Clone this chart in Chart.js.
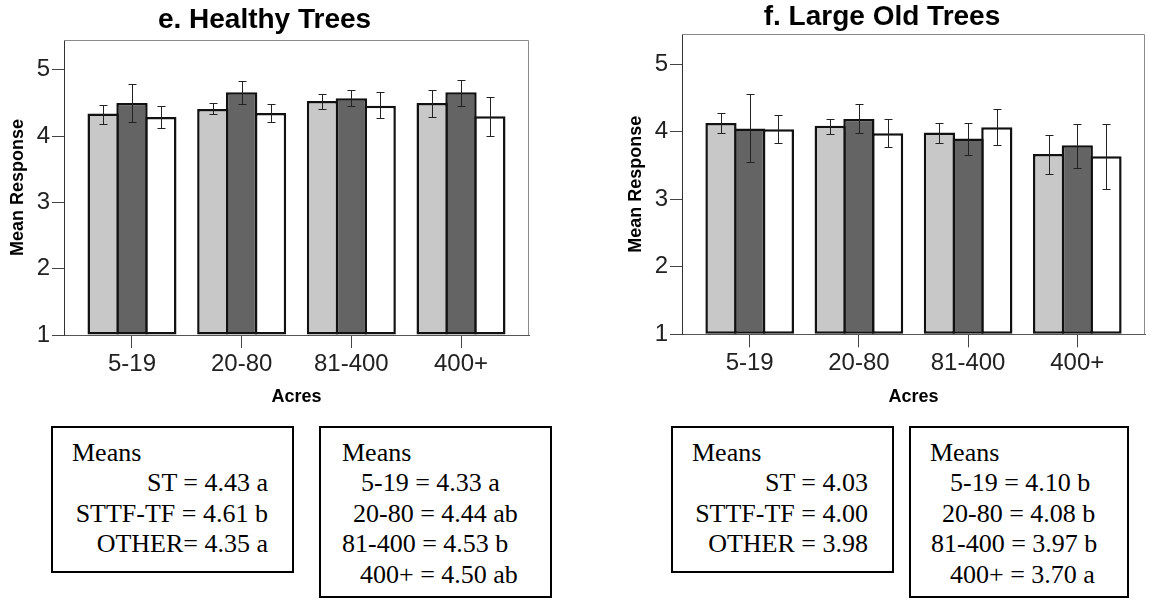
<!DOCTYPE html>
<html>
  <head>
    <style>
      body {
        margin: 0;
        background: #fff;
        width: 1149px;
        height: 600px;
        position: relative;
        overflow: hidden;
      }
      canvas {
        position: absolute;
        top: 0;
      }
      #healthy { left: 0; }
      #oldTrees { left: 619px; }
      .box {
        position: absolute;
        top: 426px;
        box-sizing: border-box;
        border: 2px solid #000;
        font-family: "Liberation Serif", "Times New Roman", serif;
        font-size: 26px;
        line-height: 30px;
        color: #000;
      }
      .box div {
        position: absolute;
        white-space: nowrap;
      }
      .box .r { text-align: right; }
    </style>
    <script src="https://cdn.jsdelivr.net/npm/chart.js"></script>
  </head>
  <body>
    <canvas id="healthy" width="540" height="415"></canvas>
    <canvas id="oldTrees" width="530" height="415"></canvas>

    <!-- means tables under the charts -->
    <div class="box" style="left:51px; width:243px; height:147px;">
      <div style="left:19px; top:10px;">Means</div>
      <div class="r" style="right:24px; top:40px;">ST = 4.43 a</div>
      <div class="r" style="right:24px; top:71px;">STTF-TF = 4.61 b</div>
      <div class="r" style="right:24px; top:101px;">OTHER= 4.35 a</div>
    </div>
    <div class="box" style="left:319px; width:233px; height:172px;">
      <div style="left:21px; top:10px;">Means</div>
      <div style="left:40px; top:40px;">5-19 = 4.33 a</div>
      <div style="left:32px; top:71px;">20-80 = 4.44 ab</div>
      <div style="left:21px; top:101px;">81-400 = 4.53 b</div>
      <div style="left:39px; top:132px;">400+ = 4.50 ab</div>
    </div>
    <div class="box" style="left:671px; width:223px; height:147px;">
      <div style="left:19px; top:10px;">Means</div>
      <div class="r" style="right:24px; top:40px;">ST = 4.03</div>
      <div class="r" style="right:24px; top:71px;">STTF-TF = 4.00</div>
      <div class="r" style="right:24px; top:101px;">OTHER = 3.98</div>
    </div>
    <div class="box" style="left:909px; width:220px; height:172px;">
      <div style="left:19px; top:10px;">Means</div>
      <div style="left:39px; top:40px;">5-19 = 4.10 b</div>
      <div style="left:31px; top:71px;">20-80 = 4.08 b</div>
      <div style="left:20px; top:101px;">81-400 = 3.97 b</div>
      <div style="left:39px; top:132px;">400+ = 3.70 a</div>
    </div>

    <script>
      // acreage classes on the x axis
      var acres = ['5-19', '20-80', '81-400', '400+'];
      var groups = ['ST', 'STTF-TF', 'OTHER'];
      var yTicks = [1, 2, 3, 4, 5];

      // e. Healthy Trees - means and error bar ends
      var healthyST = [4.34, 4.41, 4.53, 4.50];
      var healthySTTF = [4.50, 4.66, 4.57, 4.66];
      var healthyOther = [4.29, 4.35, 4.46, 4.30];
      var healthySTLow = [4.19, 4.34, 4.41, 4.29];
      var healthySTHigh = [4.47, 4.50, 4.63, 4.70];
      var healthySTTFLow = [4.21, 4.48, 4.46, 4.45];
      var healthySTTFHigh = [4.78, 4.83, 4.69, 4.85];
      var healthyOtherLow = [4.13, 4.22, 4.27, 4.00];
      var healthyOtherHigh = [4.45, 4.48, 4.66, 4.59];

      // f. Large Old Trees
      var oldST = [4.13, 4.09, 3.99, 3.67];
      var oldSTTF = [4.05, 4.19, 3.90, 3.80];
      var oldOther = [4.04, 3.98, 4.07, 3.64];
      var oldSTLow = [3.99, 3.97, 3.83, 3.37];
      var oldSTHigh = [4.28, 4.19, 4.13, 3.96];
      var oldSTTFLow = [3.55, 3.98, 3.66, 3.47];
      var oldSTTFHigh = [4.56, 4.41, 4.13, 4.12];
      var oldOtherLow = [3.83, 3.77, 3.80, 3.15];
      var oldOtherHigh = [4.25, 4.19, 4.34, 4.11];

      var fills = ['#c8c8c8', '#646464', '#ffffff'];

      var errorBars = {
        id: 'errorBars',
        afterDatasetsDraw: function(chart) {
          var ctx = chart.ctx;
          var y = chart.scales.y;
          ctx.save();
          ctx.strokeStyle = '#222';
          ctx.lineWidth = 1;
          chart.data.datasets.forEach(function(ds, i) {
            chart.getDatasetMeta(i).data.forEach(function(bar, j) {
              var x = Math.round(bar.x) + 0.5;
              var top = Math.round(y.getPixelForValue(ds.errHigh[j])) + 0.5;
              var bot = Math.round(y.getPixelForValue(ds.errLow[j])) + 0.5;
              ctx.beginPath();
              ctx.moveTo(x, top); ctx.lineTo(x, bot);
              ctx.moveTo(x - 4, top); ctx.lineTo(x + 4, top);
              ctx.moveTo(x - 4, bot); ctx.lineTo(x + 4, bot);
              ctx.stroke();
            });
          });
          ctx.restore();
        }
      };

      // light top/right edges of the plot frame
      var frame = {
        id: 'frame',
        beforeDatasetsDraw: function(chart) {
          var a = chart.chartArea, ctx = chart.ctx;
          ctx.save();
          ctx.strokeStyle = '#8a8a8a';
          ctx.lineWidth = 1;
          ctx.beginPath();
          ctx.moveTo(a.left, a.top + 0.5);
          ctx.lineTo(a.right - 0.5, a.top + 0.5);
          ctx.lineTo(a.right - 0.5, a.bottom);
          ctx.stroke();
          ctx.restore();
        }
      };

      function points(values) {
        return values.map(function(v, i) { return {x: i, y: v}; });
      }

      function makeChart(id, title, series, lows, highs, opt) {
        // neighbouring bars overlap by one border width so they share an edge
        var datasets = series.map(function(s, k) {
          return {
            label: groups[k],
            data: points(s),
            errLow: lows[k],
            errHigh: highs[k],
            backgroundColor: fills[k],
            borderColor: '#111',
            borderWidth: 2.5,
            borderSkipped: false,
            base: 1,
            categoryPercentage: 0.789,
            barPercentage: 1.087
          };
        });
        return new Chart(document.getElementById(id), {
          type: 'bar',
          data: {datasets: datasets},
          plugins: [frame, errorBars],
          options: {
            responsive: false,
            animation: false,
            layout: {padding: {left: 0, right: opt.padRight, top: 0, bottom: 0}},
            plugins: {
              legend: {display: false},
              tooltip: {enabled: false},
              title: {
                display: true,
                text: title,
                color: '#000',
                font: {family: 'Liberation Sans, Arial', size: 28, weight: 'bold', lineHeight: 1.2},
                padding: opt.titlePad
              }
            },
            scales: {
              x: {
                type: 'linear',
                min: -0.62,
                max: 3.62,
                offset: false,
                afterBuildTicks: function(s) {
                  s.ticks = acres.map(function(c, i) { return {value: i}; });
                },
                afterFit: function(s) { s.height = opt.xHeight; },
                ticks: {
                  autoSkip: false,
                  maxRotation: 0,
                  padding: 2,
                  color: '#222',
                  font: {family: 'Liberation Sans, Arial', size: 24},
                  callback: function(v) { return acres[v]; }
                },
                grid: {offset: false, drawOnChartArea: false, tickLength: 13, tickColor: '#444'},
                border: {color: '#555', width: 1},
                title: {
                  display: true,
                  text: 'Acres',
                  color: '#000',
                  font: {family: 'Liberation Sans, Arial', size: 18, weight: 'bold', lineHeight: 1.2},
                  padding: {top: 0, bottom: 7}
                }
              },
              y: {
                min: 1,
                max: 5.45,
                afterBuildTicks: function(s) {
                  s.ticks = yTicks.map(function(v) { return {value: v}; });
                },
                afterFit: function(s) { s.width = opt.yWidth; },
                ticks: {
                  padding: 2,
                  color: '#222',
                  font: {family: 'Liberation Sans, Arial', size: 24}
                },
                grid: {drawOnChartArea: false, tickLength: 12, tickColor: '#444'},
                border: {color: '#333', width: 1},
                title: {
                  display: true,
                  text: 'Mean Response',
                  color: '#000',
                  font: {family: 'Liberation Sans, Arial', size: 18, weight: 'bold', lineHeight: 1.2},
                  padding: {top: opt.yTitlePad, bottom: 0}
                }
              }
            }
          }
        });
      }

      makeChart('healthy', 'e. Healthy Trees',
        [healthyST, healthySTTF, healthyOther],
        [healthySTLow, healthySTTFLow, healthyOtherLow],
        [healthySTHigh, healthySTTFHigh, healthyOtherHigh],
        {padRight: 11, yWidth: 64, xHeight: 80, yTitlePad: 7, titlePad: {top: 3.2, bottom: 3.2}});

      makeChart('oldTrees', 'f. Large Old Trees',
        [oldST, oldSTTF, oldOther],
        [oldSTLow, oldSTTFLow, oldOtherLow],
        [oldSTHigh, oldSTTFHigh, oldOtherHigh],
        {padRight: 4, yWidth: 63, xHeight: 80.7, yTitlePad: 6, titlePad: {top: 0.2, bottom: 0.2}});
    </script>
  </body>
</html>
